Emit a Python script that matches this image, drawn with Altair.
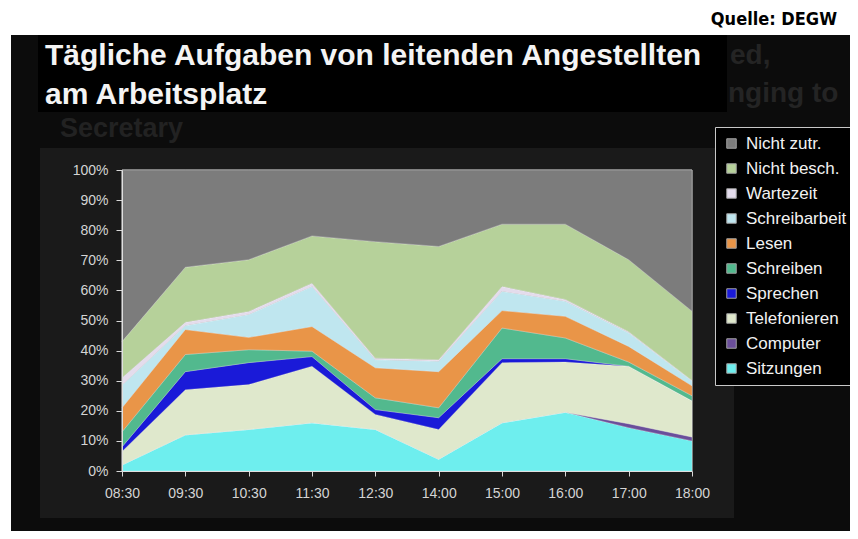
import altair as alt
import pandas as pd

# ---------------- data ----------------
times = ["08:30", "09:30", "10:30", "11:30", "12:30", "14:00", "15:00", "16:00", "17:00", "18:00"]

sitzungen     = [2.0, 12.0, 13.8, 16.0, 13.8, 3.9, 16.0, 19.5, 14.4, 10.0]
computer      = [0.0, 0.0, 0.0, 0.0, 0.0, 0.0, 0.0, 0.0, 1.3, 1.3]
telefonieren  = [4.5, 15.0, 14.9, 18.8, 5.0, 9.9, 20.0, 16.7, 19.1, 12.0]
sprechen      = [1.5, 6.0, 7.3, 3.2, 1.6, 3.9, 1.3, 1.1, 0.0, 0.0]
schreiben     = [5.0, 5.7, 4.3, 1.8, 3.9, 3.3, 10.2, 6.9, 1.4, 1.7]
lesen         = [8.0, 8.3, 4.1, 8.2, 10.0, 12.0, 5.8, 7.2, 5.2, 3.3]
schreibarbeit = [7.5, 1.3, 7.6, 13.3, 2.7, 3.5, 6.4, 5.0, 4.5, 1.6]
wartezeit     = [2.5, 1.1, 1.0, 1.1, 0.5, 0.5, 1.6, 0.6, 0.4, 0.2]
nicht_besch   = [12.0, 18.3, 17.2, 15.7, 38.7, 37.6, 20.7, 25.0, 23.9, 23.0]
nicht_zutr    = [57.0, 32.3, 29.8, 21.9, 23.8, 25.4, 18.0, 18.0, 29.8, 46.9]

series_names = ["Sitzungen", "Computer", "Telefonieren", "Sprechen", "Schreiben",
                "Lesen", "Schreibarbeit", "Wartezeit", "Nicht besch.", "Nicht zutr."]
series_values = [sitzungen, computer, telefonieren, sprechen, schreiben,
                 lesen, schreibarbeit, wartezeit, nicht_besch, nicht_zutr]
series_colors = ["#6eeeee", "#6a4e9a", "#dfe8cc", "#1a1ad8", "#52b98e",
                 "#e99548", "#bfe6ef", "#e4dcec", "#b6d19a", "#7c7c7c"]

y_ticks = [0, 10, 20, 30, 40, 50, 60, 70, 80, 90, 100]

title_lines = ["Tägliche Aufgaben von leitenden Angestellten", "am Arbeitsplatz"]
source_text = "Quelle: DEGW"

rows = []
for idx, (name, vals) in enumerate(zip(series_names, series_values)):
    for t, v in zip(times, vals):
        rows.append({"Zeit": t, "Aufgabe": name, "Anteil": v, "Reihenfolge": idx})
df = pd.DataFrame(rows)

legend_order = series_names[::-1]
legend_colors = series_colors[::-1]

W, H = 570, 301
one = pd.DataFrame({"k": [0]})
FONT = "Liberation Sans, Arial, sans-serif"


def box(x, x2, y, y2, fill, **kw):
    return alt.Chart(one).mark_rect(fill=fill, **kw).encode(
        x=alt.value(x), x2=alt.value(x2), y=alt.value(y), y2=alt.value(y2))


def label(text, x, y, size, color, weight="normal", align="left", font=FONT):
    return alt.Chart(one).mark_text(
        text=text, align=align, baseline="alphabetic", fontSize=size,
        fontWeight=weight, color=color, font=font
    ).encode(x=alt.value(x), y=alt.value(y))


bg = box(-111, 736, -135, 369, "#0c0c0c")
panel = box(-82, 612, -22, 348, "#1a1a1a")
ghost1 = label("Secretary", -62, -33, 27, "#222222", "bold")
ghost2 = label("ed,", 608, -106, 28, "#242424", "bold")
ghost3 = label("nging to", 606, -68, 28, "#242424", "bold")
title_box = box(-84, 605, -135, -58, "#000000")
plot_rect = box(0, W, 0, H, "#7b7b7b", stroke="#c4c4c4", strokeWidth=1)

area = alt.Chart(df).mark_area(
    stroke="#ffffff", strokeWidth=0.5, strokeOpacity=0.5
).encode(
    x=alt.X("Zeit:O", sort=times, scale=alt.Scale(type="point", padding=0),
            axis=alt.Axis(title=None, labelAngle=0, labelFontSize=14, labelFont=FONT,
                          labelColor="#d4d4d4", tickColor="#d8d8d8", domainColor="#e0e0e0",
                          tickSize=5, labelPadding=10, zindex=1)),
    y=alt.Y("Anteil:Q", stack="zero", scale=alt.Scale(domain=[0, 100], nice=False),
            axis=alt.Axis(title=None, values=y_ticks, labelExpr="datum.value + '%'",
                          grid=False, labelFontSize=14, labelFont=FONT,
                          labelColor="#d4d4d4", tickColor="#d8d8d8", domainColor="#e0e0e0",
                          tickSize=6, labelPadding=8, zindex=1)),
    color=alt.Color("Aufgabe:N", scale=alt.Scale(domain=legend_order, range=legend_colors),
                    legend=alt.Legend(title=None, orient="none", legendX=593, legendY=-43,
                                      symbolType="square", symbolSize=90,
                                      symbolStrokeColor="#a0a0a0", symbolStrokeWidth=1,
                                      labelFont=FONT, labelFontSize=17, labelColor="#f2f2f2",
                                      labelOffset=6, rowPadding=7, padding=8,
                                      fillColor="#000000", strokeColor="#c8c8c8",
                                      labelLimit=200, zindex=1)),
    order=alt.Order("Reihenfolge:Q", sort="ascending"),
)

t1 = label(title_lines[0], -77, -105, 30, "#f4f4f4", "bold")
t2 = label(title_lines[1], -77, -66, 30, "#f4f4f4", "bold")
src = label(source_text, 715, -145, 18, "#000000", "bold", align="right",
            font="Liberation Sans Narrow, DejaVu Sans Condensed, sans-serif")

chart = alt.layer(
    bg, panel, ghost1, ghost2, ghost3, title_box, plot_rect, area, t1, t2, src
).properties(
    width=W, height=H,
    autosize=alt.AutoSizeParams(type="none"),
    padding={"left": 114, "top": 162, "right": 158, "bottom": 60},
    background="#ffffff",
).configure_view(stroke=None)

chart.save("out.html", embed_options={"renderer": "svg", "actions": False})
